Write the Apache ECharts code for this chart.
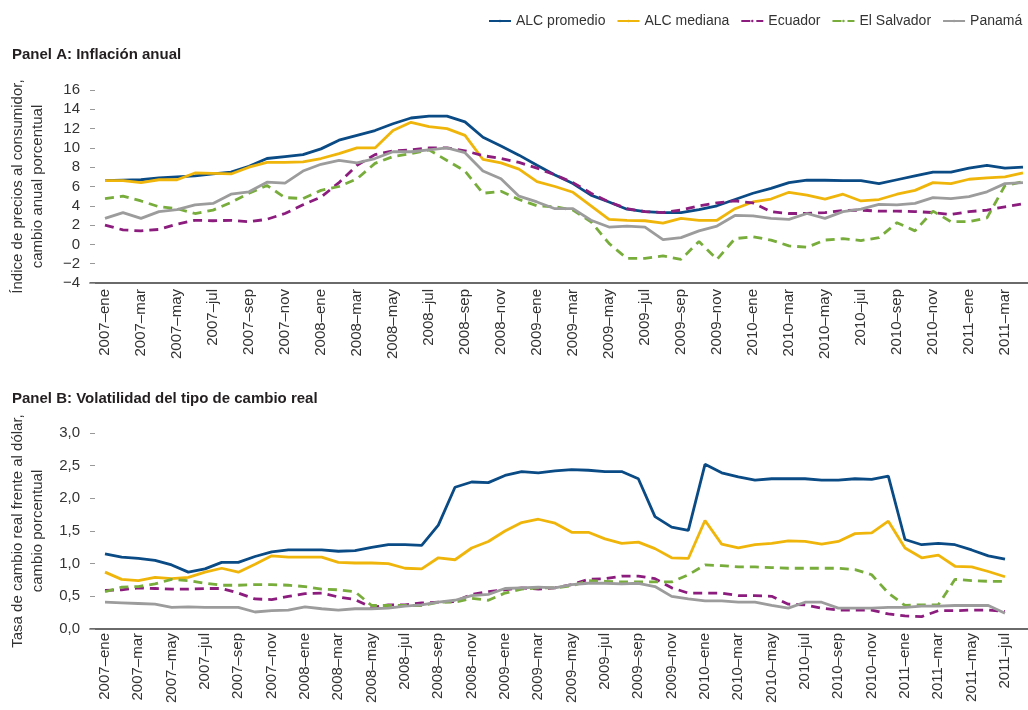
<!DOCTYPE html>
<html lang="es">
<head>
<meta charset="utf-8">
<title>Inflación y volatilidad del tipo de cambio real</title>
<script src="https://cdn.jsdelivr.net/npm/echarts@6/dist/echarts.min.js"></script>
<style>
  html, body { margin: 0; padding: 0; background: #fff; }
  #grafico { width: 1028px; height: 710px; }
</style>
</head>
<body>
<div id="grafico"></div>
<script>
// etiquetas mensuales (panel A usa los primeros 52, panel B los 55)
const meses = [
  '2007–ene', '2007–feb', '2007–mar', '2007–abr', '2007–may', '2007–jun', '2007–jul', '2007–ago', '2007–sep', '2007–oct', '2007–nov', '2007–dic',
  '2008–ene', '2008–feb', '2008–mar', '2008–abr', '2008–may', '2008–jun', '2008–jul', '2008–ago', '2008–sep', '2008–oct', '2008–nov', '2008–dic',
  '2009–ene', '2009–feb', '2009–mar', '2009–abr', '2009–may', '2009–jun', '2009–jul', '2009–ago', '2009–sep', '2009–oct', '2009–nov', '2009–dic',
  '2010–ene', '2010–feb', '2010–mar', '2010–abr', '2010–may', '2010–jun', '2010–jul', '2010–ago', '2010–sep', '2010–oct', '2010–nov', '2010–dic',
  '2011–ene', '2011–feb', '2011–mar', '2011–abr', '2011–may', '2011–jun', '2011–jul'
]

const nombres = ['ALC promedio', 'ALC mediana', 'Ecuador', 'El Salvador', 'Panamá']

// Panel A: inflación anual (%), 2007-ene a 2011-abr
const inflPromedio = [6.6, 6.65, 6.7, 6.9, 7.0, 7.1, 7.3, 7.5, 8.1, 8.9, 9.1, 9.3, 9.9, 10.8, 11.3, 11.8, 12.5, 13.1, 13.3, 13.3, 12.7, 11.1, 10.2, 9.25, 8.2, 7.2, 6.3, 5.1, 4.4, 3.65, 3.4, 3.3, 3.3, 3.6, 4.0, 4.65, 5.3, 5.8, 6.4, 6.65, 6.65, 6.6, 6.6, 6.3, 6.7, 7.1, 7.5, 7.5, 7.9, 8.2, 7.9, 8.0]
const inflMediana = [6.6, 6.6, 6.4, 6.7, 6.7, 7.4, 7.35, 7.3, 8.0, 8.5, 8.5, 8.55, 8.9, 9.4, 10.0, 10.0, 11.8, 12.65, 12.2, 12.0, 11.3, 8.8, 8.45, 7.8, 6.5, 6.0, 5.4, 4.0, 2.6, 2.5, 2.45, 2.2, 2.7, 2.5, 2.5, 3.7, 4.4, 4.7, 5.4, 5.1, 4.7, 5.2, 4.5, 4.65, 5.2, 5.6, 6.4, 6.3, 6.75, 6.9, 7.0, 7.4]
const inflEcuador = [2.0, 1.5, 1.4, 1.55, 2.1, 2.5, 2.45, 2.5, 2.35, 2.6, 3.2, 4.1, 4.9, 6.4, 8.2, 9.3, 9.7, 9.8, 10.0, 10.0, 9.7, 9.2, 8.9, 8.5, 7.9, 7.2, 6.4, 5.3, 4.4, 3.7, 3.4, 3.3, 3.55, 4.0, 4.3, 4.5, 4.3, 3.4, 3.2, 3.2, 3.3, 3.5, 3.55, 3.45, 3.45, 3.4, 3.3, 3.1, 3.4, 3.55, 3.9, 4.2]
const inflSalvador = [4.75, 5.0, 4.5, 3.9, 3.7, 3.2, 3.55, 4.35, 5.3, 6.1, 4.85, 4.75, 5.6, 6.0, 6.8, 8.4, 9.1, 9.4, 9.8, 8.7, 7.6, 5.3, 5.5, 4.65, 4.0, 3.9, 3.55, 2.35, 0.1, -1.45, -1.45, -1.2, -1.55, 0.3, -1.55, 0.6, 0.8, 0.45, -0.15, -0.3, 0.45, 0.6, 0.4, 0.7, 2.25, 1.4, 3.45, 2.35, 2.35, 2.75, 6.1, 6.5]
const inflPanama = [2.7, 3.3, 2.7, 3.4, 3.6, 4.1, 4.25, 5.2, 5.45, 6.45, 6.35, 7.6, 8.3, 8.7, 8.45, 8.9, 9.6, 9.6, 9.8, 10.0, 9.5, 7.6, 6.8, 5.0, 4.4, 3.7, 3.7, 2.5, 1.8, 1.9, 1.8, 0.5, 0.7, 1.4, 1.9, 3.0, 2.95, 2.7, 2.6, 3.2, 2.7, 3.4, 3.65, 4.15, 4.1, 4.25, 4.85, 4.75, 4.95, 5.45, 6.3, 6.4]

// Panel B: volatilidad del tipo de cambio real (%), 2007-ene a 2011-jul
const tcPromedio = [1.15, 1.10, 1.08, 1.05, 0.98, 0.87, 0.92, 1.02, 1.02, 1.11, 1.18, 1.21, 1.21, 1.21, 1.19, 1.20, 1.25, 1.29, 1.29, 1.28, 1.59, 2.17, 2.25, 2.24, 2.35, 2.41, 2.39, 2.42, 2.44, 2.43, 2.41, 2.41, 2.30, 1.72, 1.56, 1.51, 2.52, 2.39, 2.33, 2.28, 2.30, 2.30, 2.30, 2.28, 2.28, 2.30, 2.29, 2.34, 1.37, 1.29, 1.31, 1.29, 1.21, 1.12, 1.07]
const tcMediana = [0.87, 0.76, 0.74, 0.79, 0.77, 0.79, 0.87, 0.93, 0.87, 0.99, 1.12, 1.10, 1.10, 1.10, 1.02, 1.01, 1.01, 1.00, 0.93, 0.92, 1.09, 1.06, 1.24, 1.34, 1.50, 1.63, 1.68, 1.62, 1.48, 1.48, 1.38, 1.31, 1.33, 1.23, 1.09, 1.08, 1.66, 1.30, 1.24, 1.29, 1.31, 1.35, 1.34, 1.30, 1.34, 1.46, 1.47, 1.65, 1.24, 1.09, 1.13, 0.96, 0.95, 0.88, 0.80]
const tcEcuador = [0.59, 0.60, 0.63, 0.62, 0.61, 0.61, 0.62, 0.62, 0.55, 0.46, 0.45, 0.50, 0.54, 0.55, 0.49, 0.45, 0.33, 0.37, 0.37, 0.40, 0.41, 0.42, 0.53, 0.57, 0.60, 0.63, 0.61, 0.63, 0.68, 0.76, 0.77, 0.81, 0.81, 0.77, 0.63, 0.55, 0.55, 0.55, 0.51, 0.51, 0.50, 0.38, 0.37, 0.32, 0.29, 0.29, 0.29, 0.23, 0.20, 0.19, 0.28, 0.28, 0.29, 0.29, 0.27]
const tcSalvador = [0.57, 0.64, 0.65, 0.69, 0.76, 0.74, 0.70, 0.67, 0.67, 0.68, 0.68, 0.67, 0.65, 0.61, 0.60, 0.57, 0.36, 0.36, 0.36, 0.36, 0.41, 0.41, 0.47, 0.44, 0.55, 0.61, 0.63, 0.63, 0.66, 0.74, 0.73, 0.72, 0.72, 0.72, 0.72, 0.83, 0.98, 0.97, 0.95, 0.95, 0.94, 0.93, 0.93, 0.93, 0.93, 0.91, 0.83, 0.55, 0.36, 0.37, 0.37, 0.76, 0.74, 0.73, 0.73]
const tcPanama = [0.41, 0.40, 0.39, 0.38, 0.33, 0.34, 0.33, 0.33, 0.33, 0.26, 0.28, 0.29, 0.34, 0.31, 0.29, 0.31, 0.31, 0.32, 0.35, 0.37, 0.41, 0.44, 0.51, 0.53, 0.62, 0.63, 0.64, 0.63, 0.68, 0.70, 0.70, 0.69, 0.70, 0.65, 0.50, 0.46, 0.43, 0.43, 0.41, 0.41, 0.36, 0.32, 0.41, 0.41, 0.32, 0.32, 0.32, 0.33, 0.33, 0.35, 0.35, 0.36, 0.36, 0.36, 0.24]

const colores = ['#0a4a85', '#f0b50a', '#8c1d7e', '#78ad3c', '#9c9c9c']
const guiones = ['solid', 'solid', [9, 6], [9, 6], 'solid']
const fuente = "'Liberation Sans', Arial, sans-serif"
const texto = '#333'

const chart = echarts.init(document.getElementById('grafico'))

// posiciones de etiqueta: un mes sí, uno no
const cadaDos = n => {
  const out = []
  for (let i = 0; i < n; i += 2) out.push(i)
  return out
}

const ejeX = (gridIndex, n, min, max, margen) => ({
  type: 'value',
  gridIndex,
  min,
  max,
  splitLine: { show: false },
  axisTick: { show: false },
  axisLine: { onZero: false, lineStyle: { color: '#3a3a3a', width: 1.5 } },
  axisLabel: {
    customValues: cadaDos(n),
    rotate: 90,
    margin: margen,
    fontSize: 15,
    color: texto,
    formatter: v => meses[v]
  }
})

const ejeY = (gridIndex, min, max, interval, nombre, fmt) => ({
  type: 'value',
  gridIndex,
  min,
  max,
  interval,
  name: nombre,
  nameLocation: 'middle',
  nameGap: 42,
  nameTextStyle: { fontSize: 15, lineHeight: 20, color: texto, fontFamily: fuente },
  splitLine: { show: false },
  axisLine: { show: false, onZero: false },
  axisTick: { show: true, inside: true, length: 5, lineStyle: { color: '#999' } },
  axisLabel: { fontSize: 15, color: texto, margin: 10, formatter: fmt }
})

const serie = (i, datos, eje) => ({
  name: nombres[i],
  type: 'line',
  xAxisIndex: eje,
  yAxisIndex: eje,
  symbol: 'none',
  data: datos.map((v, k) => [k, v]),
  lineStyle: { color: colores[i], width: 2.8, type: guiones[i] },
  itemStyle: { color: colores[i] }
})

const option = {
  animation: false,
  textStyle: { fontFamily: fuente },
  title: [
    { text: 'Panel A: Inflación anual', left: 7, top: 42, textStyle: { fontSize: 15, fontWeight: 'bold', color: '#231f20', fontFamily: fuente } },
    { text: 'Panel B: Volatilidad del tipo de cambio real', left: 7, top: 386, textStyle: { fontSize: 15, fontWeight: 'bold', color: '#231f20', fontFamily: fuente } }
  ],
  legend: {
    data: nombres,
    left: 488,
    top: 14,
    width: 620,
    padding: 0,
    itemWidth: 22,
    itemHeight: 3,
    itemGap: 11,
    textStyle: { fontSize: 14, color: texto }
  },
  grid: [
    { left: 90, right: 0, top: 90, height: 193 },
    { left: 90, right: 0, top: 433, height: 196 }
  ],
  xAxis: [
    ejeX(0, 52, -0.833, 51.28, 6),
    ejeX(1, 55, -0.9, 55.38, 4)
  ],
  yAxis: [
    ejeY(0, -4, 16, 2, 'Índice de precios al consumidor,\ncambio anual porcentual',
      v => (v < 0 ? '−' + Math.abs(v) : String(v))),
    ejeY(1, 0, 3, 0.5, 'Tasa de cambio real frente al dólar,\ncambio porcentual',
      v => v.toFixed(1).replace('.', ','))
  ],
  series: [
    serie(0, inflPromedio, 0),
    serie(1, inflMediana, 0),
    serie(2, inflEcuador, 0),
    serie(3, inflSalvador, 0),
    serie(4, inflPanama, 0),
    serie(0, tcPromedio, 1),
    serie(1, tcMediana, 1),
    serie(2, tcEcuador, 1),
    serie(3, tcSalvador, 1),
    serie(4, tcPanama, 1)
  ]
}

chart.setOption(option)
window.addEventListener('resize', () => chart.resize())
</script>
</body>
</html>
